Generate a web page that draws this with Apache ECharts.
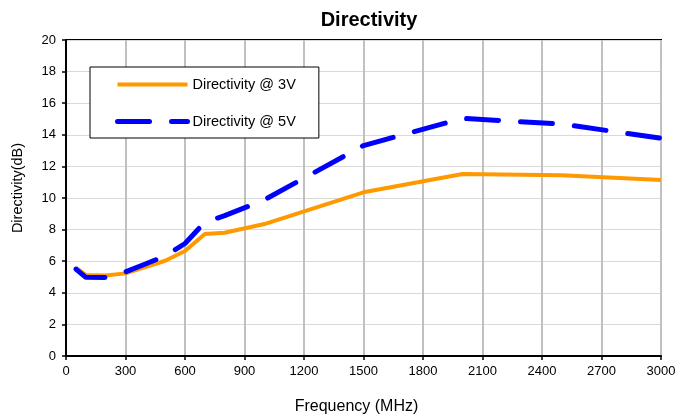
<!DOCTYPE html>
<html>
<head>
<meta charset="utf-8">
<script src="https://cdn.jsdelivr.net/npm/echarts@6/dist/echarts.min.js"></script>
<style>
  html, body { margin: 0; padding: 0; background: #fff; }
  #chartBox { width: 683px; height: 418px; }
</style>
</head>
<body>
<div id="chartBox"></div>
<script>
// values
const freqs = [50, 100, 200, 300, 400, 500, 600, 700, 800, 1000, 1500, 2000, 2500, 3000];
const dir3V = [5.6, 5.12, 5.1, 5.23, 5.63, 6.03, 6.65, 7.72, 7.8, 8.35, 10.36, 11.52, 11.44, 11.14];
const dir5V = [5.5, 4.98, 4.97, 5.32, 5.82, 6.33, 7.12, 8.47, 8.88, 9.88, 13.32, 15.04, 14.68, 13.78];
const seriesNames = ['Directivity @ 3V', 'Directivity @ 5V'];

const font = 'Liberation Sans, Arial, sans-serif';

function pairs(xs, ys) {
  return xs.map((x, i) => [x, ys[i]]);
}

let myChart = echarts.init(document.getElementById('chartBox'));
let option = {
  animation: false,
  textStyle: { fontFamily: font },
  title: {
    text: 'Directivity',
    left: 364,
    textAlign: 'center',
    top: 5,
    textStyle: { fontSize: 20, fontWeight: 'bold', color: '#000', fontFamily: font }
  },
  grid: {
    left: 66, right: 22, top: 40, bottom: 62,
    outerBoundsMode: 'none',
    show: true,
    borderColor: '#000',
    borderWidth: 2,
    backgroundColor: '#fff'
  },
  legend: {
    orient: 'vertical',
    left: 90,
    top: 67,
    padding: [10, 23, 9, 25],
    itemWidth: 70,
    itemHeight: 14,
    itemGap: 22,
    borderColor: '#000',
    borderWidth: 1,
    backgroundColor: '#fff',
    itemStyle: { opacity: 0 },
    lineStyle: { width: 'inherit' },
    data: seriesNames,
    textStyle: { fontSize: 14.5, color: '#000', fontFamily: font }
  },
  xAxis: {
    type: 'value',
    min: 0,
    max: 3000,
    interval: 300,
    name: 'Frequency (MHz)',
    nameLocation: 'middle',
    nameGap: 43,
    nameTextStyle: { fontSize: 16, color: '#000', padding: [0, 14, 0, 0] },
    axisLine: { lineStyle: { color: '#000', width: 2 } },
    axisTick: { show: true, length: 4, lineStyle: { color: '#000', width: 1.5 } },
    axisLabel: { fontSize: 13, color: '#000', margin: 9, formatter: v => String(v) },
    splitLine: { show: true, lineStyle: { color: '#c0c0c0', width: 2 } }
  },
  yAxis: {
    type: 'value',
    min: 0,
    max: 20,
    interval: 2,
    name: 'Directivity(dB)',
    nameLocation: 'middle',
    nameGap: 41,
    nameTextStyle: { fontSize: 14.5, color: '#000', padding: [0, 0, 0, 20] },
    axisLine: { show: true, lineStyle: { color: '#000', width: 2 } },
    axisTick: { show: true, length: 4, lineStyle: { color: '#000', width: 1.5 } },
    axisLabel: { fontSize: 13, color: '#000', margin: 10, formatter: v => String(v) },
    splitLine: { show: true, lineStyle: { color: '#d9d9d9', width: 1 } }
  },
  series: [
    {
      name: seriesNames[0],
      type: 'line',
      symbol: 'none',
      data: pairs(freqs, dir3V),
      color: '#ff9900',
      lineStyle: { color: '#ff9900', width: 4 },
      z: 2
    },
    {
      name: seriesNames[1],
      type: 'line',
      symbol: 'none',
      data: pairs(freqs, dir5V),
      color: '#0000ff',
      lineStyle: { color: '#0000ff', width: 5, type: [32, 22], cap: 'round' },
      z: 3
    }
  ]
};
myChart.setOption(option);
</script>
</body>
</html>
